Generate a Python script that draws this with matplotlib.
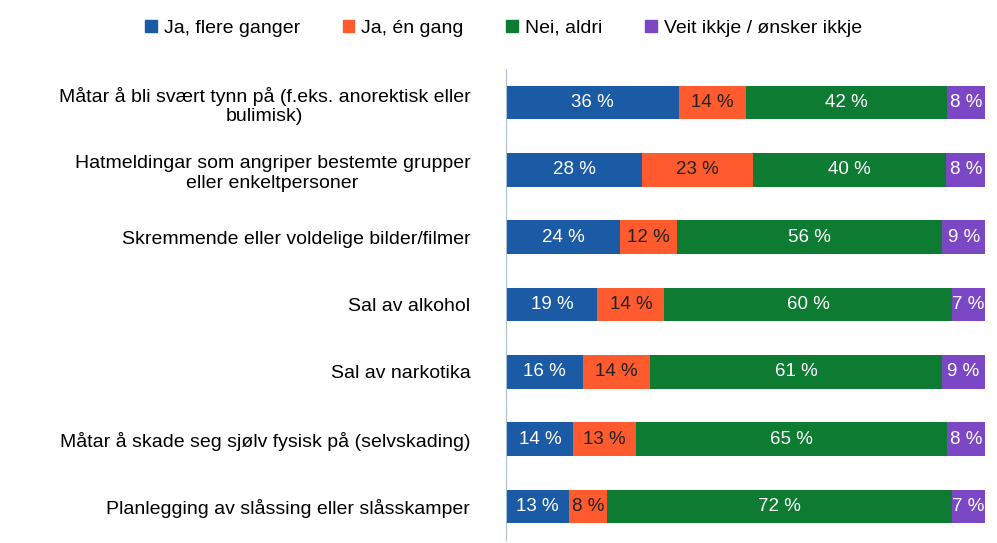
import numpy as np
import matplotlib
matplotlib.use("Agg")
import matplotlib.pyplot as plt
from matplotlib.patches import Patch

plt.rcParams['font.family'] = ['Liberation Sans', 'DejaVu Sans']

categories = [
    "Måtar å bli svært tynn på (f.eks. anorektisk eller\nbulimisk)",
    "Hatmeldingar som angriper bestemte grupper\neller enkeltpersoner",
    "Skremmende eller voldelige bilder/filmer",
    "Sal av alkohol",
    "Sal av narkotika",
    "Måtar å skade seg sjølv fysisk på (selvskading)",
    "Planlegging av slåssing eller slåsskamper",
]
series = ["Ja, flere ganger", "Ja, én gang", "Nei, aldri", "Veit ikkje / ønsker ikkje"]
values = np.array([
    [36, 14, 42, 8],
    [28, 23, 40, 8],
    [24, 12, 56, 9],
    [19, 14, 60, 7],
    [16, 14, 61, 9],
    [14, 13, 65, 8],
    [13, 8, 72, 7],
])
colors = ["#1b5aa5", "#ff5b2e", "#0d7c32", "#7b47c4"]
text_colors = ["white", "#222222", "white", "white"]

fig = plt.figure(figsize=(9.97, 5.43), dpi=100)
ax = fig.add_axes([0.508, 0.005, 0.48, 0.868])

y = np.arange(len(categories))
shares = values / values.sum(axis=1, keepdims=True) * 100
left = np.zeros(len(categories))
for j in range(len(series)):
    ax.barh(y, shares[:, j], left=left, height=0.5, color=colors[j], label=series[j])
    for i in range(len(categories)):
        ax.text(left[i] + shares[i, j] / 2, y[i], f"{values[i, j]} %",
                ha="center", va="center", fontsize=13.5, color=text_colors[j])
    left += shares[:, j]

ax.set_xlim(0, 100)
ax.set_ylim(len(categories) - 0.5, -0.5)
ax.set_yticks(y)
ax.set_yticklabels(categories, fontsize=14, ha="right", multialignment="center")
ax.tick_params(axis="y", length=0, pad=26)
ax.set_xticks([])
for s in ["top", "right", "bottom"]:
    ax.spines[s].set_visible(False)
ax.spines["left"].set_color("#a9bfd6")

handles = [Patch(color=c, label=s) for c, s in zip(colors, series)]
fig.legend(handles=handles, loc="center", bbox_to_anchor=(0.505, 0.948), ncol=4,
           frameon=False, fontsize=14, handlelength=0.6, handleheight=0.6,
           columnspacing=2.2, handletextpad=0.35)

fig.savefig("out.png", dpi=100)
